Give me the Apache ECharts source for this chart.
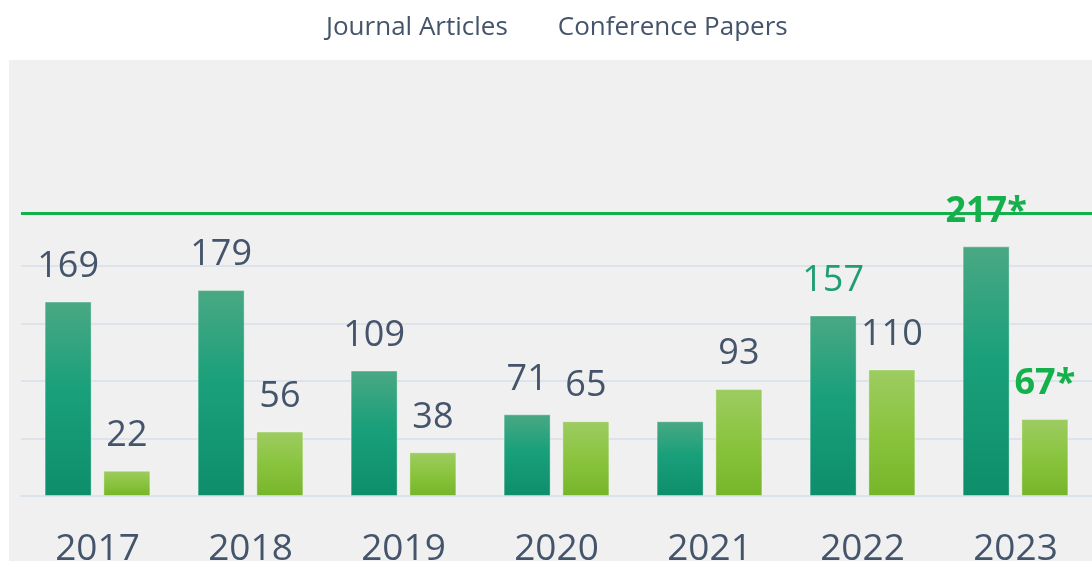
<!DOCTYPE html>
<html><head><meta charset="utf-8">
<script src="https://cdn.jsdelivr.net/npm/echarts@6/dist/echarts.min.js"></script>
<style>html,body{margin:0;padding:0;background:#fff}#c{width:1092px;height:561px}</style>
</head><body><div id="c"></div>
<script>
const years = ['2017','2018','2019','2020','2021','2022','2023'];
const journal = [169,179,109,71,65,157,217];
const conference = [22,56,38,65,93,110,67];
const journalLabels = ['169','179','109','71','','157','217*'];
const conferenceLabels = ['22','56','38','65','93','110','67*'];
const seriesNames = ['Journal Articles','Conference Papers'];
const targetValue = 246;

const slate = '#44546a';
const font = 'Open Sans';
const journalLabelColor = ['#44546a','#44546a','#44546a','#44546a','#44546a','#1f9e72','#13b04c'];
const journalLabelBold = [false,false,false,false,false,false,true];
const confLabelColor = ['#44546a','#44546a','#44546a','#44546a','#44546a','#44546a','#13b04c'];
const confLabelBold = [false,false,false,false,false,false,true];

function mkData(vals, labels, colors, bolds){
  return vals.map((v,i)=>({value:v,label:{formatter:labels[i],color:colors[i],fontWeight:bolds[i]?'bold':'normal',show:labels[i]!==''}}));
}

const chart = echarts.init(document.getElementById('c'));
chart.setOption({
  animation:false,
  backgroundColor:'#ffffff',
  graphic:[{type:'rect',z:-100,silent:true,shape:{x:9,y:60,width:1083,height:501},style:{fill:'#f0f0f0'}}],
  legend:{top:10,left:316,icon:'none',itemWidth:0,itemGap:45,
    textStyle:{fontFamily:font,fontSize:26,color:slate},data:seriesNames},
  grid:{left:21,right:0,top:213,bottom:65,outerBoundsMode:'none',containLabel:false},
  xAxis:{type:'category',data:years,axisTick:{show:false},
    axisLine:{show:true,lineStyle:{color:'#dde3ea',width:2}},
    axisLabel:{fontFamily:font,fontSize:37,color:slate,margin:35}},
  yAxis:{type:'value',min:0,max:targetValue,interval:50,axisLabel:{show:false},axisLine:{show:false},axisTick:{show:false},
    splitLine:{lineStyle:{color:'#dde3ea',width:2}}},
  series:[
    {name:seriesNames[0],type:'bar',barWidth:47,barGap:'25%',
      itemStyle:{borderColor:'rgba(255,255,255,0.35)',borderWidth:1,
        color:new echarts.graphic.LinearGradient(0,0,0,1,[{offset:0,color:'#4aa884'},{offset:0.45,color:'#19a07a'},{offset:1,color:'#0e8e6b'}])},
      label:{show:true,position:'top',distance:17,fontFamily:font,fontSize:36},
      data:mkData(journal,journalLabels,journalLabelColor,journalLabelBold),
      markLine:{symbol:'none',silent:true,label:{show:false},lineStyle:{color:'#13b04c',width:3,type:'solid'},data:[{yAxis:targetValue}]}
    },
    {name:seriesNames[1],type:'bar',barWidth:47,
      itemStyle:{borderColor:'rgba(255,255,255,0.35)',borderWidth:1,
        color:new echarts.graphic.LinearGradient(0,0,0,1,[{offset:0,color:'#9dcc62'},{offset:0.5,color:'#8ac43e'},{offset:1,color:'#76b52a'}])},
      label:{show:true,position:'top',distance:17,fontFamily:font,fontSize:36},
      data:mkData(conference,conferenceLabels,confLabelColor,confLabelBold)
    }
  ]
});
</script></body></html>
